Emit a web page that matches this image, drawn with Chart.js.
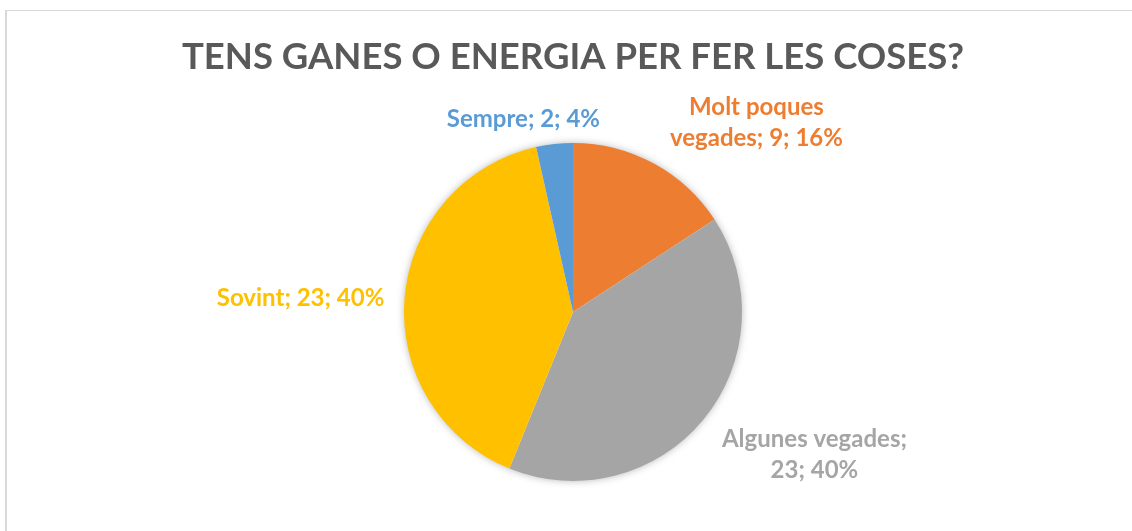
<!DOCTYPE html>
<html>
<head>
<meta charset="utf-8">
<script src="https://cdn.jsdelivr.net/npm/chart.js@4.4.0/dist/chart.umd.min.js"></script>
<style>
  html, body { margin: 0; padding: 0; background: #fff; overflow: hidden; }
  #frame { position: absolute; left: 5px; top: 10px; width: 1200px; height: 600px;
           border-left: 2px solid #d9d9d9; border-top: 1px solid #d9d9d9; }
  #wrap { position: absolute; left: 0; top: 0; width: 1132px; height: 531px; }
</style>
</head>
<body>
<div id="frame"></div>
<div id="wrap"><canvas id="pieChart" width="1132" height="531"></canvas></div>
<script>
// data
const categories = ['Molt poques vegades', 'Algunes vegades', 'Sovint', 'Sempre'];
const counts = [9, 23, 23, 2];
const sliceColors = ['#ED7D31', '#A5A5A5', '#FFC000', '#5B9BD5'];
const chartTitle = 'TENS GANES O ENERGIA PER FER LES COSES?';

// label lines as excel wraps them
const labelLines = [
  ['Molt poques', 'vegades; {v}; {p}%'],
  ['Algunes vegades;', '{v}; {p}%'],
  ['Sovint; {v}; {p}%'],
  ['Sempre; {v}; {p}%']
];
// nudge from the outer edge at mid angle (excel "best fit")
const labelNudge = [[103, -41], [111, 35], [-104, 0], [-31, -25]];

const FONT = 'Lato, "Open Sans", sans-serif';

// soft shadow behind the whole pie
const pieShadow = {
  id: 'pieShadow',
  beforeDatasetsDraw(chart) {
    const arc = chart.getDatasetMeta(0).data[0];
    if (!arc) return;
    const ctx = chart.ctx;
    ctx.save();
    ctx.shadowColor = 'rgba(0,0,0,0.35)';
    ctx.shadowBlur = 9;
    ctx.fillStyle = '#ffffff';
    ctx.beginPath();
    ctx.arc(arc.x, arc.y, arc.outerRadius - 1, 0, Math.PI * 2);
    ctx.fill();
    ctx.restore();
  }
};

const outsideLabels = {
  id: 'outsideLabels',
  afterDatasetsDraw(chart) {
    const ctx = chart.ctx;
    const meta = chart.getDatasetMeta(0);
    const total = counts.reduce((a, b) => a + b, 0);
    ctx.save();
    ctx.font = 'bold 24px ' + FONT;
    ctx.textAlign = 'center';
    ctx.textBaseline = 'middle';
    meta.data.forEach((arc, i) => {
      const mid = (arc.startAngle + arc.endAngle) / 2;
      const ex = arc.x + Math.cos(mid) * arc.outerRadius;
      const ey = arc.y + Math.sin(mid) * arc.outerRadius;
      const cx = ex + labelNudge[i][0];
      const cy = ey + labelNudge[i][1];
      const pct = Math.round(counts[i] / total * 100);
      const lines = labelLines[i].map(s => s.replace('{v}', counts[i]).replace('{p}', pct));
      const lh = 31;
      ctx.fillStyle = sliceColors[i];
      lines.forEach((ln, k) => {
        ctx.fillText(ln, cx, cy + (k - (lines.length - 1) / 2) * lh);
      });
    });
    ctx.restore();
  }
};

new Chart(document.getElementById('pieChart').getContext('2d'), {
  type: 'pie',
  data: {
    labels: categories,
    datasets: [{
      data: counts,
      backgroundColor: sliceColors,
      borderWidth: 0,
      radius: 169
    }]
  },
  options: {
    responsive: false,
    animation: false,
    layout: { padding: { left: 14, right: 0, top: 0, bottom: 0 } },
    plugins: {
      legend: { display: false },
      tooltip: { enabled: false },
      title: {
        display: true,
        text: chartTitle,
        color: '#595959',
        font: { family: FONT, size: 36.5, weight: 'bold', lineHeight: 1.3 },
        padding: { top: 34, bottom: 11.5 }
      }
    }
  },
  plugins: [pieShadow, outsideLabels]
});
</script>
</body>
</html>
